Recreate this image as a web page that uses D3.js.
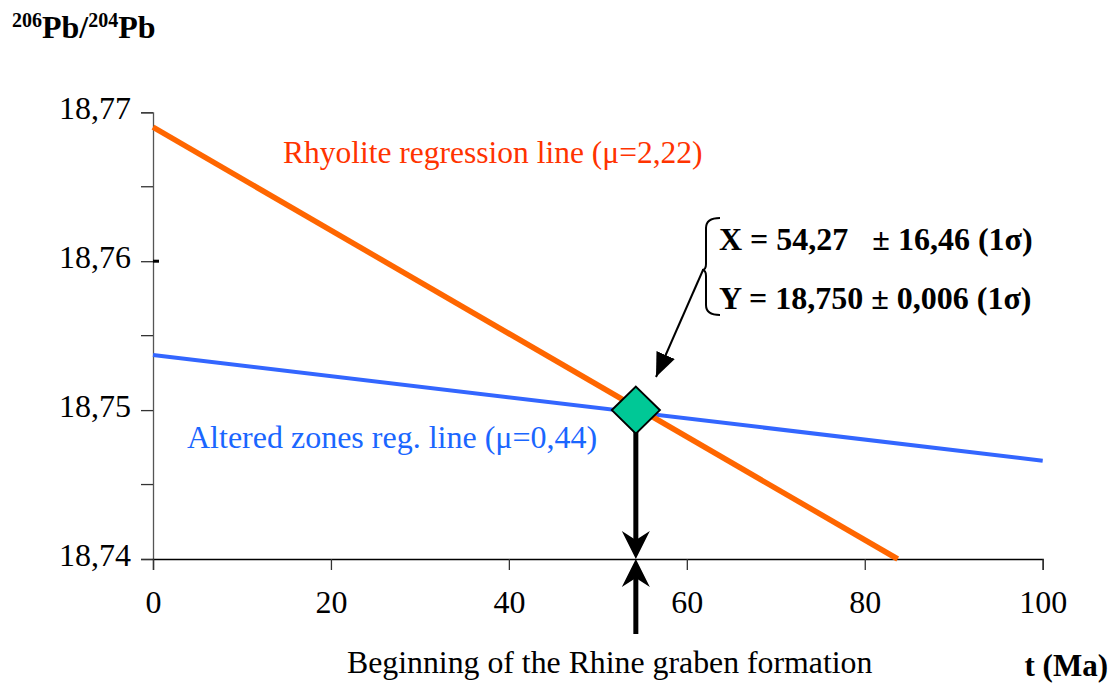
<!DOCTYPE html>
<html>
<head>
<meta charset="utf-8">
<script src="https://cdn.jsdelivr.net/npm/d3@7"></script>
<style>
  html, body { margin: 0; padding: 0; background: #fff; }
  svg { display: block; }
  text { font-family: "Liberation Serif", "Times New Roman", serif; }
</style>
</head>
<body>
<svg id="chart" width="1117" height="684"></svg>
<script>
// Age axis (Ma) and 206Pb/204Pb axis
const xTicks = [0, 20, 40, 60, 80, 100];
const yTicks = [18.74, 18.75, 18.76, 18.77];
const yMinorTicks = [18.745, 18.755, 18.765];

// Regression lines: [t, 206Pb/204Pb] end points
const rhyoliteLine = [[0, 18.7690], [83.7, 18.7400]];
const alteredLine = [[0, 18.7537], [100, 18.7466]];

// Intersection of the two regressions
const intersection = { t: 54.27, pb: 18.750 };
const resultLines = ["X = 54,27   \u00b1 16,46 (1\u03c3)", "Y = 18,750 \u00b1 0,006 (1\u03c3)"];

const svg = d3.select("#chart");
const x = d3.scaleLinear().domain([0, 100]).range([153, 1042.7]);
const y = d3.scaleLinear().domain([18.74, 18.77]).range([559, 112.3]);
const fmt = v => d3.format(".2f")(v).replace(".", ",");

// Y axis
const yAxis = d3.axisLeft(y).tickValues(yTicks).tickFormat(fmt).tickSize(12).tickPadding(10);
const gy = svg.append("g").attr("transform", `translate(${x(0)},0)`).call(yAxis);
gy.select(".domain").attr("stroke", "#555").attr("stroke-width", 1.3);
gy.selectAll(".tick line").attr("stroke", "#333").attr("stroke-width", 1.3);
gy.selectAll(".tick text").attr("font-size", 32).attr("fill", "#000")
  .attr("font-family", "Liberation Serif, Times New Roman, serif").attr("dy", "0.2em");
gy.selectAll(".minor").data(yMinorTicks).join("line")
  .attr("x1", -12).attr("x2", 0).attr("y1", d => y(d)).attr("y2", d => y(d))
  .attr("stroke", "#333").attr("stroke-width", 1.3);
// small inner mark on 18,76
gy.append("rect").attr("x", 0).attr("y", y(18.76) - 1.5).attr("width", 6).attr("height", 3).attr("fill", "#000");

// X axis
const xAxis = d3.axisBottom(x).tickValues(xTicks).tickFormat(d3.format("d")).tickSize(11).tickPadding(20);
const gx = svg.append("g").attr("transform", `translate(0,${y(18.74)})`).call(xAxis);
gx.select(".domain").attr("stroke", "#000").attr("stroke-width", 1.3);
gx.selectAll(".tick line").attr("stroke", "#333").attr("stroke-width", 1.3);
gx.selectAll(".tick text").attr("font-size", 32).attr("fill", "#000")
  .attr("font-family", "Liberation Serif, Times New Roman, serif");

// Regression lines
const line = d3.line().x(d => x(d[0])).y(d => y(d[1]));
svg.append("path").datum(alteredLine).attr("d", line)
  .attr("stroke", "#3366FF").attr("stroke-width", 4).attr("fill", "none");
svg.append("path").datum(rhyoliteLine).attr("d", line)
  .attr("stroke", "#FF6600").attr("stroke-width", 5.5).attr("fill", "none");

// Line labels
svg.append("text").attr("x", 283).attr("y", 163).attr("font-size", 31.5).attr("fill", "#FF3300")
  .text("Rhyolite regression line (\u03bc=2,22)");
svg.append("text").attr("x", 187).attr("y", 448).attr("font-size", 32).attr("fill", "#1A66FF")
  .text("Altered zones reg. line (\u03bc=0,44)");

// Arrow marker for the result pointer
const defs = svg.append("defs");
defs.append("marker").attr("id", "thinHead").attr("viewBox", "0 0 24 20")
  .attr("refX", 24).attr("refY", 10).attr("markerWidth", 24).attr("markerHeight", 20)
  .attr("markerUnits", "userSpaceOnUse").attr("orient", "auto")
  .append("path").attr("d", "M0,0 L24,10 L0,20 Z").attr("fill", "#000");

const px = x(intersection.t), py = y(intersection.pb);
const axisY = y(18.74);

// Down arrow from the intersection to the age axis
svg.append("line").attr("x1", px).attr("x2", px).attr("y1", py).attr("y2", axisY - 10)
  .attr("stroke", "#000").attr("stroke-width", 5);
svg.append("path").attr("d", `M${px - 14},${axisY - 28} L${px},${axisY} L${px + 14},${axisY - 28} L${px},${axisY - 19} Z`)
  .attr("fill", "#000");
// Up arrow from below the axis
svg.append("line").attr("x1", px).attr("x2", px).attr("y1", 634).attr("y2", axisY + 10)
  .attr("stroke", "#000").attr("stroke-width", 5);
svg.append("path").attr("d", `M${px - 14},${axisY + 28} L${px},${axisY} L${px + 14},${axisY + 28} L${px},${axisY + 19} Z`)
  .attr("fill", "#000");

// Intersection marker
svg.append("path")
  .attr("d", `M${px},${py - 23.5} L${px + 24},${py} L${px},${py + 23.5} L${px - 24},${py} Z`)
  .attr("fill", "#00C896").attr("stroke", "#000").attr("stroke-width", 2);

// Result box: brace, pointer and values
const bx = 706, by0 = 218, by1 = 315, bm = 270;
svg.append("path")
  .attr("d", `M${bx + 14},${by0} Q${bx},${by0} ${bx},${by0 + 10} L${bx},${bm - 6} Q${bx},${bm} ${bx - 4},${bm} Q${bx},${bm} ${bx},${bm + 6} L${bx},${by1 - 10} Q${bx},${by1} ${bx + 14},${by1}`)
  .attr("fill", "none").attr("stroke", "#000").attr("stroke-width", 2);
svg.append("line").attr("x1", bx - 3).attr("y1", bm).attr("x2", 656).attr("y2", 377)
  .attr("stroke", "#000").attr("stroke-width", 2).attr("marker-end", "url(#thinHead)");

svg.selectAll(".result").data(resultLines).join("text")
  .attr("class", "result").attr("x", 719).attr("y", (d, i) => 250 + i * 59)
  .attr("font-size", 32).attr("font-weight", "bold").attr("fill", "#000")
  .attr("xml:space", "preserve").style("white-space", "pre")
  .text(d => d);

// Axis titles
const title = svg.append("text").attr("x", 12).attr("y", 38).attr("font-size", 32).attr("font-weight", "bold");
title.append("tspan").attr("font-size", 20).attr("dy", -11).text("206");
title.append("tspan").attr("dy", 11).text("Pb/");
title.append("tspan").attr("font-size", 20).attr("dy", -11).text("204");
title.append("tspan").attr("dy", 11).text("Pb");

svg.append("text").attr("x", 1108).attr("y", 676).attr("text-anchor", "end")
  .attr("font-size", 31).attr("font-weight", "bold").text("t (Ma)");

svg.append("text").attr("x", 347).attr("y", 673).attr("font-size", 31.8)
  .text("Beginning of the Rhine graben formation");
</script>
</body>
</html>
